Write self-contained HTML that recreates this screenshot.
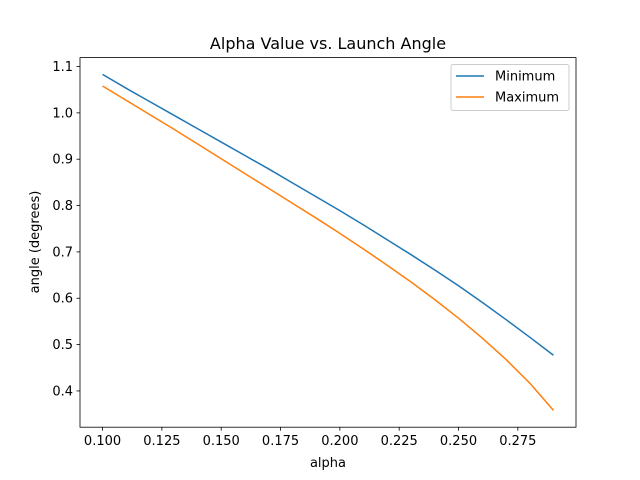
<!DOCTYPE html>
<html><head><meta charset="utf-8"><style>
body{margin:0;background:#fff}
svg{display:block;font-family:"DejaVu Sans","Liberation Sans",sans-serif}
</style></head><body>
<svg id="chart" width="640" height="480">
<rect width="640" height="480" fill="#fff"/>
<text x="328" y="49" font-size="16" text-anchor="middle">Alpha Value vs. Launch Angle</text>
<text x="328" y="467" font-size="13" text-anchor="middle">alpha</text>
<text transform="translate(39,242) rotate(-90)" font-size="13" text-anchor="middle">angle (degrees)</text>
<g id="plot"></g>
</svg>
<script>
const alphas=[0.10,0.11,0.12,0.13,0.14,0.15,0.16,0.17,0.18,0.19,0.20,0.21,0.22,0.23,0.24,0.25,0.26,0.27,0.28,0.29];
const minimum=[1.083,1.053,1.024,0.995,0.966,0.937,0.908,0.879,0.849,0.819,0.789,0.758,0.726,0.694,0.661,0.627,0.591,0.554,0.516,0.477];
const maximum=[1.058,1.027,0.996,0.965,0.933,0.901,0.869,0.837,0.805,0.773,0.740,0.706,0.671,0.635,0.597,0.557,0.514,0.468,0.417,0.358];
const xTicks=[0.100,0.125,0.150,0.175,0.200,0.225,0.250,0.275];
const yTicks=[0.4,0.5,0.6,0.7,0.8,0.9,1.0,1.1];
const seriesNames=["Minimum","Maximum"];
const L=80,R=576,T=57.6,B=427.2;
const all=minimum.concat(maximum);
const xmn=Math.min(...alphas),xmx=Math.max(...alphas),xm=(xmx-xmn)*0.05;
const ymn=Math.min(...all),ymx=Math.max(...all),ym=(ymx-ymn)*0.05;
const X=v=>L+(v-(xmn-xm))/((xmx+xm)-(xmn-xm))*(R-L);
const Y=v=>B-(v-(ymn-ym))/((ymx+ym)-(ymn-ym))*(B-T);
const NS="http://www.w3.org/2000/svg";
const g=document.getElementById('plot');
function mk(t,a,txt){const e=document.createElementNS(NS,t);for(const k in a)e.setAttribute(k,a[k]);if(txt!=null)e.textContent=txt;g.appendChild(e);return e;}
xTicks.forEach(t=>{const x=X(t);
 const l=mk('line',{x1:x,x2:x,y1:B,y2:B+3.5,stroke:'#000','stroke-width':0.8});
 
 
 const s=mk('text',{x:x,y:B+18,'font-size':13,'text-anchor':'middle'},t.toFixed(3));
 
 
});
yTicks.forEach(t=>{const y=Y(t);
 const l=mk('line',{x1:L-3.5,x2:L,y1:y,y2:y,stroke:'#000','stroke-width':0.8});
 
 
 const s=mk('text',{x:L-7,y:y+4.5,'font-size':13,'text-anchor':'end'},t.toFixed(1));
 
 
});
const colors=['#1f77b4','#ff7f0e'];
[minimum,maximum].forEach((arr,i)=>{
 const p=mk('polyline',{points:arr.map((v,j)=>X(alphas[j])+','+Y(v)).join(' '),fill:'none',stroke:colors[i],'stroke-width':1.5});
 
 
});
const fr=mk('rect',{x:L,y:T,width:R-L,height:B-T,fill:'none',stroke:'#000','stroke-width':0.8});


const lg=mk('rect',{x:451,y:64.5,width:118,height:46,fill:'#fff',stroke:'#ccc','stroke-width':1,rx:2});


seriesNames.forEach((n,i)=>{const y=76+i*21;
 const l=mk('line',{x1:456,x2:484,y1:y,y2:y,stroke:colors[i],'stroke-width':1.5});
 
 
 const s=mk('text',{x:495,y:y+4.5,'font-size':13},n);
 
 
});
</script>
</body></html>
